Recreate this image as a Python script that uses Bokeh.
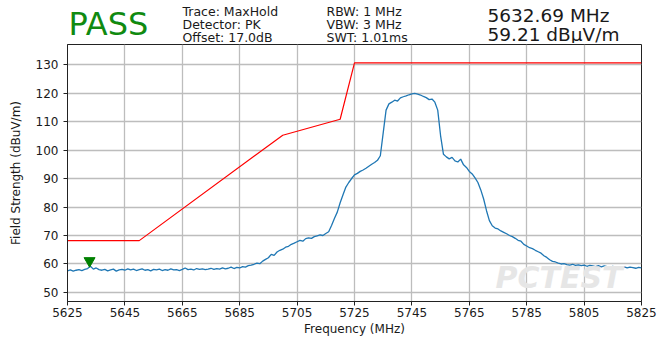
from bokeh.plotting import figure
from bokeh.layouts import column
from bokeh.models import Label, Range1d, FixedTicker, ColumnDataSource
from bokeh.transform import dodge
from bokeh.core.properties import value
from bokeh.embed import file_html
from bokeh.resources import INLINE

# ---------------- data ----------------
freq_mhz = list(range(5625, 5826))
level_dbuv = [
    57.6, 57.9, 57.5, 57.8, 58.0, 57.7, 58.1, 58.4, 59.2, 58.2,   # 5625-5634
    58.6, 58.0, 57.8, 58.1, 57.6, 57.9, 58.2, 57.5, 57.9, 58.1,   # 5635-5644
    57.8, 58.3, 57.9, 58.2, 57.7, 58.0, 58.3, 57.8, 58.0, 57.6,   # 5645-5654
    58.1, 57.9, 58.2, 57.7, 58.0, 57.8, 58.3, 57.9, 58.0, 57.7,   # 5655-5664
    58.1, 58.6, 58.0, 58.2, 57.9, 58.4, 58.1, 58.3, 58.0, 58.2,   # 5665-5674
    58.5, 58.1, 58.4, 58.2, 58.6, 58.3, 58.5, 58.9, 58.4, 58.8,   # 5675-5684
    58.6, 59.1, 58.9, 59.4, 59.6, 59.9, 60.3, 60.1, 61.0, 61.6,   # 5685-5694
    62.2, 63.4, 63.0, 64.2, 64.8, 65.2, 65.9, 66.2, 66.9, 67.3,   # 5695-5704
    67.8, 68.3, 68.0, 68.9, 69.2, 69.0, 69.6, 69.9, 70.2, 70.0,   # 5705-5714
    70.7, 71.3, 73.5, 76.0, 78.2, 81.5, 84.3, 87.0, 88.6, 90.0,   # 5715-5724
    91.3, 91.8, 92.5, 93.0, 93.6, 94.3, 95.0, 95.6, 96.4, 98.0,   # 5725-5734
    106.0, 114.0, 116.2, 116.8, 117.5, 117.2, 118.3, 118.7, 119.0, 119.4,  # 5735-5744
    119.7, 119.9, 119.6, 119.3, 118.8, 118.4, 117.7, 117.9, 116.8, 114.0,  # 5745-5754
    105.0, 98.5, 97.6, 96.9, 97.4, 96.2, 95.8, 96.8, 94.8, 93.9,  # 5755-5764
    92.5, 91.6, 90.2, 88.6, 86.0, 82.8, 78.7, 75.2, 73.4, 72.6,   # 5765-5774
    72.3, 71.6, 71.1, 70.6, 70.0, 69.6, 69.0, 68.3, 68.0, 66.9,   # 5775-5784
    66.3, 65.7, 65.4, 64.8, 64.3, 63.8, 62.9, 62.3, 61.5, 60.9,   # 5785-5794
    60.7, 60.3, 60.0, 60.1, 59.8, 59.6, 59.9, 59.5, 59.7, 59.4,   # 5795-5804
    59.6, 59.2, 59.5, 59.3, 59.1, 59.4, 59.0, 59.3, 59.1, 58.9,   # 5805-5814
    59.2, 58.8, 59.0, 58.7, 59.0, 58.6, 58.9, 58.7, 58.5, 58.8,   # 5815-5824
    58.6,                                                         # 5825
]

limit_freq = [5625, 5650, 5700, 5720, 5725, 5825]
limit_level = [68.2, 68.2, 105.2, 110.8, 130.6, 130.6]

marker_freq = [5632.69]
marker_level = [59.21]

x_ticks = [5625, 5645, 5665, 5685, 5705, 5725, 5745, 5765, 5785, 5805, 5825]
y_ticks = [50, 60, 70, 80, 90, 100, 110, 120, 130]

verdict = "PASS"
settings_col1 = ["Trace: MaxHold", "Detector: PK", "Offset: 17.0dB"]
settings_col2 = ["RBW: 1 MHz", "VBW: 3 MHz", "SWT: 1.01ms"]
readout = [f"{marker_freq[0]:.2f} MHz", f"{marker_level[0]:.2f} dBµV/m"]

# ---------------- layout constants ----------------
FONT = "DejaVu Sans"
TXT = "#1a1a1a"
W = 669
HH = 43                       # header strip height
H = 298                       # main figure height
BL, BR, BT, BB = 67, 28, 1, 40

# ---------------- header strip (coordinates = page pixels) ----------------
hdr = figure(width=W, height=HH, output_backend="svg", toolbar_location=None,
             x_range=Range1d(BL, W - BR), y_range=Range1d(HH, 0),
             x_axis_type=None, y_axis_type=None,
             min_border_left=BL, min_border_right=BR,
             min_border_top=0, min_border_bottom=0)
hdr.grid.visible = False
hdr.outline_line_color = None
hdr.background_fill_color = "white"
hdr.border_fill_color = "white"

hdr.text(x=[68], y=[23.5], text=[verdict], text_font=value(FONT),
         text_font_size="32px", text_color="#108a10", text_baseline="middle")
hdr.text(x=[182] * 3, y=[11, 24, 36.5], text=settings_col1,
         text_font=value(FONT), text_font_size="12.5px", text_color=TXT,
         text_baseline="alphabetic")
hdr.text(x=[326] * 3, y=[11, 24, 36.5], text=settings_col2,
         text_font=value(FONT), text_font_size="12.5px", text_color=TXT,
         text_baseline="alphabetic")
hdr.text(x=[487] * 2, y=[15, 33.5], text=readout,
         text_font=value(FONT), text_font_size="18.5px", text_color=TXT,
         text_baseline="alphabetic")

# ---------------- main plot ----------------
p = figure(width=W, height=H, output_backend="svg", toolbar_location=None,
           x_range=Range1d(5625, 5825), y_range=Range1d(46.83, 137.04),
           min_border_left=BL, min_border_right=BR,
           min_border_top=BT, min_border_bottom=BB)
p.background_fill_color = "white"
p.border_fill_color = "white"
p.outline_line_color = "#222222"
p.outline_line_width = 1

p.xaxis.ticker = FixedTicker(ticks=x_ticks)
p.yaxis.ticker = FixedTicker(ticks=y_ticks)
for ax in (p.xaxis[0], p.yaxis[0]):
    ax.axis_line_color = "#222222"
    ax.major_tick_line_color = "#222222"
    ax.major_tick_in = 0
    ax.major_tick_out = 4
    ax.minor_tick_line_color = None
    ax.major_label_text_font = FONT
    ax.major_label_text_font_size = "12px"
    ax.major_label_text_color = TXT
    ax.axis_label_text_font = FONT
    ax.axis_label_text_font_size = "12px"
    ax.axis_label_text_font_style = "normal"
    ax.axis_label_text_color = TXT
p.xaxis.axis_label = "Frequency (MHz)"
p.yaxis.axis_label = "Field Strength (dBuV/m)"
p.xaxis.major_label_standoff = 2
p.xaxis.axis_label_standoff = 2
p.yaxis.major_label_standoff = 5
p.yaxis.axis_label_standoff = 10

p.grid.grid_line_color = "#bdbdbd"
p.grid.grid_line_width = 1.3

# faint watermark
p.add_layout(Label(x=428, y=24, x_units="screen", y_units="screen", text="PCTEST",
                   text_font=FONT, text_font_size="30px", text_font_style="bold italic",
                   text_color="#e6e6e6", text_baseline="alphabetic"))

src = ColumnDataSource(dict(f=freq_mhz, v=level_dbuv))
p.line("f", "v", source=src, line_color="#1f77b4", line_width=1.3)
p.line(limit_freq, limit_level, line_color="#ff0000", line_width=1.2)

msrc = ColumnDataSource(dict(f=marker_freq, v=marker_level))
p.scatter(x="f", y=dodge("v", 1.9, range=p.y_range), source=msrc,
          marker="inverted_triangle", size=11, fill_color="#008000",
          line_color="#008000")

layout = column(hdr, p, spacing=0)
open("out.html", "w").write(file_html(layout, INLINE))
